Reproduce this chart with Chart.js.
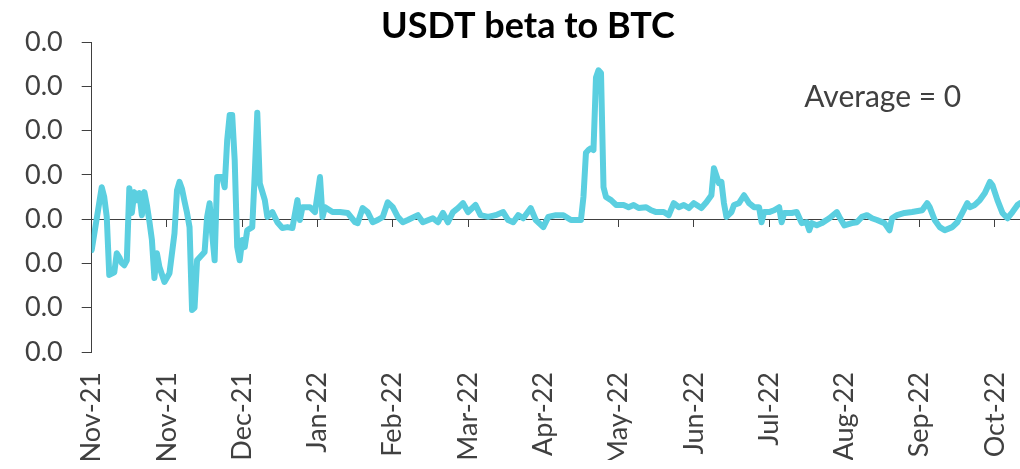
<!DOCTYPE html>
<html>
<head>
<meta charset="utf-8">
<script src="https://cdn.jsdelivr.net/npm/chart.js@4/dist/chart.umd.min.js"></script>
<style>
html, body { margin: 0; padding: 0; background: #fff; }
</style>
</head>
<body>
<canvas id="grafico" width="1020" height="469"></canvas>
<script>
// -------- DADOS --------
const tickLabels = ["Nov-21","Nov-21","Dec-21","Jan-22","Feb-22","Mar-22","Apr-22",
                    "May-22","Jun-22","Jul-22","Aug-22","Sep-22","Oct-22"];

// dias desde o inicio da serie
const days = [0,4,5,6,7,9,10,11,12,13,14,15,16,17,18,19,20,21,22,23,24,25,26,27,29,31,33,34,35,36,37,38,39,
  40,41,42,45,46,47,48,49,50,52,53,54,55,56,57,58,59,60,61,62,64,65,66,67,69,70,72,74,76,78,80,82,83,84,87,89,
  91,92,93,96,99,102,105,106,108,110,112,114,116,118,120,122,124,126,130,132,136,138,140,142,144,146,148,150,
  153,155,158,161,164,166,168,170,172,175,177,180,182,185,188,191,195,196,197,198,199,200,201,202,203,204,205,
  207,209,212,214,216,218,221,223,225,228,230,232,234,236,238,240,243,245,247,248,250,251,252,253,255,256,258,
  260,262,264,266,267,268,270,272,274,275,276,279,281,283,285,286,287,289,291,294,297,298,300,303,305,307,309,
  311,313,316,318,319,321,324,327,331,333,334,336,338,340,343,345,347,349,350,352,354,356,358,359,361,363,365,
  367,369,370];

const beta = [-0.0070,0.0072,0.0050,0.0005,-0.0126,-0.0120,-0.0077,-0.0086,-0.0099,-0.0104,-0.0093,0.0070,
  0.0014,0.0061,0.0043,0.0059,0.0009,0.0061,0.0032,-0.0005,-0.0047,-0.0133,-0.0077,-0.0108,-0.0142,-0.0122,
  -0.0032,0.0065,0.0084,0.0068,0.0040,0.0014,-0.0018,
  -0.0205,-0.0200,-0.0093,-0.0074,0.0005,0.0036,-0.0032,-0.0093,0.0095,0.0095,0.0072,0.0178,0.0235,0.0235,
  0.0133,-0.0063,-0.0093,-0.0047,-0.0063,-0.0025,-0.0018,0.0104,0.0240,0.0081,0.0043,0.0005,0.0016,-0.0007,
  -0.0020,-0.0018,-0.0020,0.0043,-0.0002,0.0027,0.0027,0.0016,
  0.0095,0.0005,0.0027,0.0016,0.0016,0.0014,-0.0007,-0.0009,0.0025,0.0016,-0.0007,-0.0002,0.0005,0.0038,
  0.0027,0.0005,-0.0007,-0.0002,0.0009,-0.0007,0.0002,-0.0007,0.0014,-0.0007,0.0016,0.0025,0.0036,0.0016,
  0.0032,0.0009,0.0005,0.0009,0.0016,-0.0002,-0.0007,0.0009,0.0002,0.0025,-0.0002,-0.0018,0.0005,0.0009,
  0.0009,-0.0002,-0.0002,0.0050,0.0150,0.0156,0.0160,0.0156,0.0320,0.0336,0.0330,0.0072,0.0050,
  0.0043,0.0032,0.0032,0.0027,0.0032,0.0025,0.0027,0.0020,0.0016,0.0016,0.0009,0.0036,0.0027,0.0032,0.0025,
  0.0036,0.0025,0.0038,0.0054,0.0115,0.0081,0.0084,0.0036,0.0005,0.0016,0.0032,0.0036,
  0.0054,0.0036,0.0027,0.0027,-0.0007,0.0016,0.0016,0.0020,0.0027,-0.0007,0.0014,0.0014,0.0016,-0.0009,
  -0.0007,-0.0025,-0.0009,-0.0014,-0.0009,0.0002,0.0016,0.0005,-0.0014,-0.0009,-0.0007,0.0005,0.0009,
  0.0002,-0.0002,-0.0009,-0.0025,0.0002,0.0009,0.0014,0.0016,0.0020,0.0036,0.0027,-0.0002,-0.0018,-0.0025,
  -0.0018,-0.0007,0.0014,0.0036,0.0027,0.0032,0.0043,0.0059,0.0084,0.0077,0.0043,0.0014,0.0002,
  0.0016,0.0032,0.0036];

const titulo = "USDT beta to BTC";
const textoMedia = "Average = 0";
const posMedia = {dia: 284, valor: 0.0276};
const posTitulo = {x: 528, y: 26};

const fonte = "Lato, 'Open Sans', sans-serif";
const corTexto = "#404040";

// -------- TITULO E TEXTO "AVERAGE" --------
const pluginTextos = {
    id: "textos",
    afterDraw(chart){
        const ctx = chart.ctx;
        ctx.save();

        ctx.font = "bold 36px " + fonte;
        ctx.fillStyle = "#000";
        ctx.textAlign = "center";
        ctx.textBaseline = "middle";
        ctx.fillText(titulo, posTitulo.x, posTitulo.y);

        const x = chart.scales.x.getPixelForValue(posMedia.dia);
        const y = chart.scales.y.getPixelForValue(posMedia.valor);
        ctx.font = "30px " + fonte;
        ctx.fillStyle = corTexto;
        ctx.textAlign = "left";
        ctx.fillText(textoMedia, x, y);

        ctx.restore();
    }
};

// um tick por rotulo, a cada 30 dias
function soMeses(scale){
    scale.ticks = tickLabels.map((_, i) => ({value: i * 30}));
}

// -------- GRAFICO --------
new Chart(document.getElementById("grafico"), {
    type: "line",
    data: {
        datasets: [{
            data: days.map((d,i) => ({x: d, y: beta[i]})),
            borderColor: "#5bcfe0",
            borderWidth: 6,
            borderJoinStyle: "round",
            borderCapStyle: "round",
            pointRadius: 0,
            tension: 0,
            fill: false
        }]
    },
    options: {
        responsive: false,
        devicePixelRatio: 1,
        animation: false,
        layout: { padding: {left: 6, right: 0, top: 42, bottom: 9} },
        plugins: {
            legend: { display: false },
            tooltip: { enabled: false },
            title: { display: false }
        },
        scales: {
            x: {
                type: "linear",
                position: "bottom",
                min: 0,
                max: 370,
                afterBuildTicks: soMeses,
                afterFit: s => { s.paddingRight = 0; s.height = 108; },
                grid: { display: false, drawTicks: false },
                border: { display: false },
                ticks: {
                    autoSkip: false,
                    minRotation: 90,
                    maxRotation: 90,
                    padding: 20,
                    color: corTexto,
                    font: { family: fonte, size: 27 },
                    callback: v => tickLabels[Math.round(v / 30)]
                }
            },
            eixoZero: {
                type: "linear",
                axis: "x",
                position: { y: 0 },
                min: 0,
                max: 370,
                afterBuildTicks: soMeses,
                afterFit: s => { s.paddingRight = 0; },
                grid: { drawOnChartArea: false, drawTicks: true, tickLength: 7, color: corTexto },
                border: { display: true, color: corTexto, width: 1 },
                ticks: { display: false }
            },
            y: {
                min: -0.03,
                max: 0.04,
                grid: { drawOnChartArea: false, drawTicks: true, tickLength: 10, color: corTexto },
                border: { display: true, color: corTexto, width: 1 },
                ticks: {
                    stepSize: 0.01,
                    padding: 19,
                    color: corTexto,
                    font: { family: fonte, size: 27 },
                    callback: v => Math.abs(v).toFixed(1)
                }
            }
        }
    },
    plugins: [pluginTextos]
});
</script>
</body>
</html>
